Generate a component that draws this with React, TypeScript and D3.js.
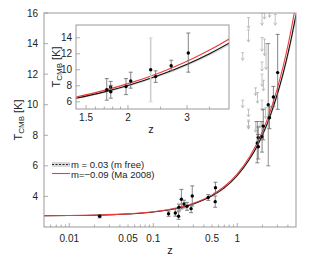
import React from 'react';
import * as d3 from 'd3';

// model curves (z, T in K)
const curveZ = [0.005, 0.01, 0.02, 0.05, 0.1, 0.2, 0.3, 0.5, 0.7, 1, 1.4, 1.7, 2, 2.5, 3, 3.5, 4, 4.5, 5];
const redT = [2.74, 2.75, 2.78, 2.86, 3.0, 3.28, 3.55, 4.1, 4.65, 5.48, 6.6, 7.43, 8.27, 9.67, 11.07, 12.47, 13.85, 15.25, 16.65];
const blackT = [2.74, 2.75, 2.77, 2.85, 2.98, 3.24, 3.51, 4.04, 4.56, 5.37, 6.45, 7.24, 8.04, 9.37, 10.7, 12.02, 13.32, 14.62, 15.9];
const bandLo = [2.73, 2.74, 2.76, 2.83, 2.96, 3.21, 3.47, 3.99, 4.5, 5.29, 6.34, 7.11, 7.89, 9.18, 10.48, 11.76, 13.03, 14.29, 15.54];
const bandHi = [2.75, 2.76, 2.78, 2.86, 2.99, 3.25, 3.52, 4.06, 4.58, 5.4, 6.49, 7.29, 8.09, 9.43, 10.77, 12.1, 13.41, 14.72, 16.01];

// measurements with error bars
const pointZ = [0.023, 0.152, 0.183, 0.2, 0.202, 0.216, 0.232, 0.252, 0.282, 0.291, 0.451, 0.546, 0.55,
  1.729, 1.776, 1.777, 1.973, 2.038, 2.418, 2.69, 3.025];
const pointT = [2.7, 2.87, 2.92, 2.7, 3.3, 3.82, 3.5, 3.35, 3.2, 4.03, 3.93, 3.66, 4.57,
  7.5, 7.85, 7.25, 7.9, 8.6, 9.15, 10.5, 12.1];
const errUp = [0.1, 0.17, 0.27, 0.3, 0.2, 0.64, 0.25, 0.26, 0.26, 0.66, 0.19, 0.37, 0.36,
  1.4, 0.7, 0.8, 1.0, 1.1, 0.72, 0.7, 2.5];
const errDown = [0.1, 0.17, 0.21, 0.2, 0.2, 0.64, 0.25, 0.26, 0.26, 0.66, 0.19, 0.37, 0.36,
  1.3, 0.6, 0.8, 1.0, 0.9, 0.72, 0.6, 2.4];

// the wide range measurement (6 < T < 14)
const rangeZ = [2.337];
const rangeT = [10.0];
const rangeLo = [6.0];
const rangeHi = [14.0];

// upper limits (grey arrows)
const limitZ = [1.36, 1.36, 1.16, 1.97, 2.11, 2.42, 2.83, 1.97, 2.11, 2.2, 1.97, 1.16, 1.36, 1.36, 1.65, 1.74, 1.97, 1.97, 2.17, 1.36, 1.65, 1.87, 2.05];
const limitTop = [15.7, 14.9, 13.4, 16.0, 16.0, 16.0, 15.9, 14.4, 14.3, 14.0, 12.8, 10.3, 9.7, 9.0, 11.1, 10.8, 12.0, 10.3, 9.8, 8.9, 8.9, 8.9, 11.6];
const limitBottom = [15.0, 14.1, 12.9, 15.2, 15.6, 15.7, 15.2, 13.5, 13.2, 12.3, 12.2, 9.8, 9.2, 8.4, 10.6, 10.1, 11.2, 9.6, 9.1, 8.5, 8.2, 8.5, 10.9];

const xTickLabels = [0.01, 0.05, 0.1, 0.5, 1];
const yTickLabels = [4, 6, 8, 10, 12, 14, 16];
const insetXTicks = [1.5, 2, 3];
const insetYTicks = [6, 8, 10, 12, 14];

const W = 309;
const H = 263;
const font = "'Liberation Sans', Arial, sans-serif";

const x = d3.scaleLog().domain([0.005, 5]).range([44, 296]);
const y = d3.scaleLinear().domain([2, 16]).range([227, 13]);
const xi = d3.scaleLog().domain([1.4, 4]).range([76, 229]);
const yi = d3.scaleLinear().domain([5.1, 15.6]).range([109, 25]);

const minorMain = [0.006, 0.007, 0.008, 0.009, 0.01, 0.02, 0.03, 0.04, 0.05, 0.06, 0.07, 0.08, 0.09, 0.1,
  0.2, 0.3, 0.4, 0.5, 0.6, 0.7, 0.8, 0.9, 1, 2, 3, 4];
const minorInset = [1.5, 1.6, 1.7, 1.8, 1.9, 2, 2.5, 3, 3.5];

function Curves({ sx, sy, clip }: any) {
  const rows = curveZ.map((z, i) => ({ z, r: redT[i], b: blackT[i], lo: bandLo[i], hi: bandHi[i] }));
  const band = d3.area<any>().x(d => sx(d.z)).y0(d => sy(d.lo)).y1(d => sy(d.hi)).curve(d3.curveMonotoneX);
  const lineB = d3.line<any>().x(d => sx(d.z)).y(d => sy(d.b)).curve(d3.curveMonotoneX);
  const lineR = d3.line<any>().x(d => sx(d.z)).y(d => sy(d.r)).curve(d3.curveMonotoneX);
  return (
    <g clipPath={`url(#${clip})`}>
      <path d={band(rows) || ''} fill="#d8d8d8" />
      <path d={lineB(rows) || ''} fill="none" stroke="#111" strokeWidth={1.1} />
      <path d={lineR(rows) || ''} fill="none" stroke="#f03c3c" strokeWidth={1.1} />
    </g>
  );
}

function Points({ sx, sy, clip, rangeColor, rangeWidth }: any) {
  return (
    <g clipPath={`url(#${clip})`}>
      {rangeZ.map((z, i) => (
        <g key={'r' + i}>
          <line x1={sx(z)} x2={sx(z)} y1={sy(rangeHi[i])} y2={sy(rangeLo[i])} stroke={rangeColor} strokeWidth={rangeWidth} />
          <line x1={sx(z) - 2} x2={sx(z) + 2} y1={sy(rangeHi[i])} y2={sy(rangeHi[i])} stroke={rangeColor} strokeWidth={0.8} />
          <line x1={sx(z) - 2} x2={sx(z) + 2} y1={sy(rangeLo[i])} y2={sy(rangeLo[i])} stroke={rangeColor} strokeWidth={0.8} />
          <circle cx={sx(z)} cy={sy(rangeT[i])} r={1.7} fill="#000" />
        </g>
      ))}
      {pointZ.map((z, i) => {
        const px = sx(z);
        const top = sy(pointT[i] + errUp[i]);
        const bot = sy(pointT[i] - errDown[i]);
        return (
          <g key={i}>
            <line x1={px} x2={px} y1={top} y2={bot} stroke="#666" strokeWidth={0.8} />
            <line x1={px - 2} x2={px + 2} y1={top} y2={top} stroke="#666" strokeWidth={0.8} />
            <line x1={px - 2} x2={px + 2} y1={bot} y2={bot} stroke="#666" strokeWidth={0.8} />
            <circle cx={px} cy={sy(pointT[i])} r={1.7} fill="#000" />
          </g>
        );
      })}
    </g>
  );
}

export default function App() {
  return (
    <svg width={W} height={H} style={{ position: 'absolute', left: 0, top: 0, background: '#fff' }} fontFamily={font}>
      <defs>
        <clipPath id="mainClip"><rect x={44} y={13} width={252} height={214} /></clipPath>
        <clipPath id="insetClip"><rect x={76} y={25} width={153} height={84} /></clipPath>
      </defs>
      <rect width={W} height={H} fill="#fff" />

      {/* main panel */}
      <g clipPath="url(#mainClip)">
        {limitZ.map((z, i) => {
          const px = x(z);
          const t = y(limitTop[i]);
          const b = y(limitBottom[i]);
          return (
            <g key={i} stroke="#b4b4b4" strokeWidth={0.8} fill="none">
              <line x1={px - 1.5} x2={px + 1.5} y1={t} y2={t} />
              <line x1={px} x2={px} y1={t} y2={b} />
              <path d={`M${px - 1.6},${b - 2.5}L${px},${b}L${px + 1.6},${b - 2.5}`} />
            </g>
          );
        })}
      </g>
      <Curves sx={x} sy={y} clip="mainClip" />
      <Points sx={x} sy={y} clip="mainClip" rangeColor="#777" rangeWidth={0.8} />

      <rect x={44} y={13} width={252} height={214} fill="none" stroke="#999" strokeWidth={1} />
      {minorMain.map(v => {
        const major = v === 0.01 || v === 0.1 || v === 1;
        return <line key={v} x1={x(v)} x2={x(v)} y1={227} y2={227 - (major ? 4 : 2.5)} stroke="#999" strokeWidth={0.8} />;
      })}
      {yTickLabels.map(v => (
        <line key={v} x1={44} x2={48} y1={y(v)} y2={y(v)} stroke="#999" strokeWidth={0.8} />
      ))}
      {xTickLabels.map(v => (
        <text key={v} x={x(v)} y={241.5} fontSize={10} textAnchor="middle" fill="#222">{v}</text>
      ))}
      {yTickLabels.map(v => (
        <text key={v} x={38} y={y(v) + 3.5} fontSize={10} textAnchor="end" fill="#222">{v}</text>
      ))}
      <text x={170} y={254} fontSize={11} textAnchor="middle" fill="#222">z</text>
      <text transform="translate(22,120) rotate(-90)" fontSize={11} textAnchor="middle" fill="#222">
        T<tspan fontSize={8} dy={2}>CMB</tspan><tspan dy={-2}> [K]</tspan>
      </text>

      {/* legend */}
      <rect x={52} y={162} width={18} height={5} fill="#d8d8d8" />
      <line x1={52} x2={70} y1={164.5} y2={164.5} stroke="#111" strokeWidth={0.9} strokeDasharray="2,1.5" />
      <line x1={52} x2={70} y1={173.5} y2={173.5} stroke="#f03c3c" strokeWidth={1.1} />
      <text x={71} y={168} fontSize={9.5} fill="#222">m = 0.03 (m free)</text>
      <text x={71} y={177.5} fontSize={9.5} fill="#222">m=−0.09 (Ma 2008)</text>

      {/* inset */}
      <rect x={76} y={25} width={153} height={84} fill="#fff" />
      <Curves sx={xi} sy={yi} clip="insetClip" />
      <Points sx={xi} sy={yi} clip="insetClip" rangeColor="#cfcfcf" rangeWidth={1.6} />
      <rect x={76} y={25} width={153} height={84} fill="none" stroke="#999" strokeWidth={1} />
      {minorInset.map(v => (
        <line key={v} x1={xi(v)} x2={xi(v)} y1={109} y2={109 - (insetXTicks.includes(v) ? 4 : 2.5)} stroke="#999" strokeWidth={0.8} />
      ))}
      {insetYTicks.map(v => (
        <line key={v} x1={76} x2={80} y1={yi(v)} y2={yi(v)} stroke="#999" strokeWidth={0.8} />
      ))}
      {insetXTicks.map(v => (
        <text key={v} x={xi(v)} y={121} fontSize={10} textAnchor="middle" fill="#222">{v}</text>
      ))}
      {insetYTicks.map(v => (
        <text key={v} x={72} y={yi(v) + 3.5} fontSize={10} textAnchor="end" fill="#222">{v}</text>
      ))}
      <text x={151} y={133} fontSize={11} textAnchor="middle" fill="#222">z</text>
      <text transform="translate(60,67) rotate(-90)" fontSize={11} textAnchor="middle" fill="#222">
        T<tspan fontSize={8} dy={2}>CMB</tspan><tspan dy={-2}> [K]</tspan>
      </text>
    </svg>
  );
}
